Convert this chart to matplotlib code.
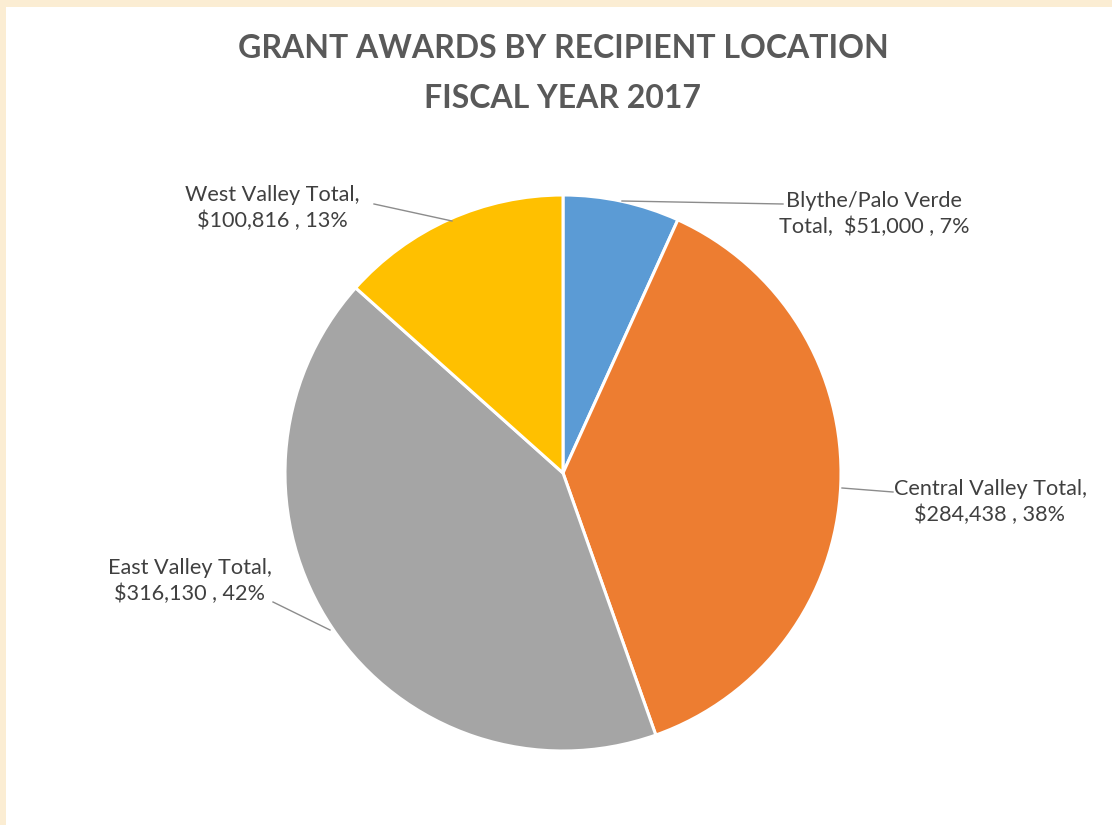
import matplotlib

matplotlib.use("Agg")
import matplotlib.pyplot as plt
from matplotlib.patches import Rectangle

# data
names = ["Blythe/Palo Verde Total", "Central Valley Total", "East Valley Total", "West Valley Total"]
amounts = [51000, 284438, 316130, 100816]
colors = ["#5B9BD5", "#ED7D31", "#A5A5A5", "#FFC000"]
title_lines = ["GRANT AWARDS BY RECIPIENT LOCATION", "FISCAL YEAR 2017"]

W, H = 1112, 825
CX, CY, R = 563, 473, 278  # pie centre / radius in pixels


def px(x, y):
    """Pixel position (from top-left) -> data coordinates of the pie axes."""
    return (x - CX) / R, (CY - y) / R


fig = plt.figure(figsize=(W / 100, H / 100), dpi=100, facecolor="#FBEDD3")
fig.patches.append(Rectangle((6 / W, 0), 1, 1 - 7 / H, transform=fig.transFigure,
                             facecolor="white", edgecolor="none", zorder=-10))

ax = fig.add_axes([0, 0, 1, 1])
ax.set_axis_off()
ax.pie(amounts, colors=colors, startangle=90, counterclock=False, radius=1,
       wedgeprops=dict(edgecolor="white", linewidth=2.2))
ax.set_xlim((0 - CX) / R, (W - CX) / R)
ax.set_ylim((CY - H) / R, CY / R)
ax.set_aspect("auto")

total = sum(amounts)
pcts = [a / total for a in amounts]

labels = [
    f"Blythe/Palo Verde\nTotal,  ${amounts[0]:,} , {pcts[0]:.0%}",
    f"{names[1]},\n${amounts[1]:,} , {pcts[1]:.0%}",
    f"{names[2]},\n${amounts[2]:,} , {pcts[2]:.0%}",
    f"{names[3]},\n${amounts[3]:,} , {pcts[3]:.0%}",
]
# (text position, leader start, leader end) in pixels
placements = [
    ((874, 214), (783, 204), (622, 201)),
    ((990, 502), (893, 492), (842, 488)),
    ((190, 581), (273, 602), (330, 630)),
    ((272, 208), (374, 204), (452, 221)),
]

txt = dict(fontsize=15.6, color="#404040", family="Lato", ha="center", va="center",
           linespacing=1.3, parse_math=False)
for lab, (tp, a, b) in zip(labels, placements):
    ax.text(*px(*tp), lab, **txt)
    ax.plot([px(*a)[0], px(*b)[0]], [px(*a)[1], px(*b)[1]], color="#8C8C8C", lw=1)

for line, y in zip(title_lines, [48, 98]):
    fig.text(CX / W, 1 - y / H, line, fontsize=23, fontweight="bold", color="#595959",
             family="Lato", ha="center", va="center")

fig.savefig("out.png", dpi=100, facecolor=fig.get_facecolor())
